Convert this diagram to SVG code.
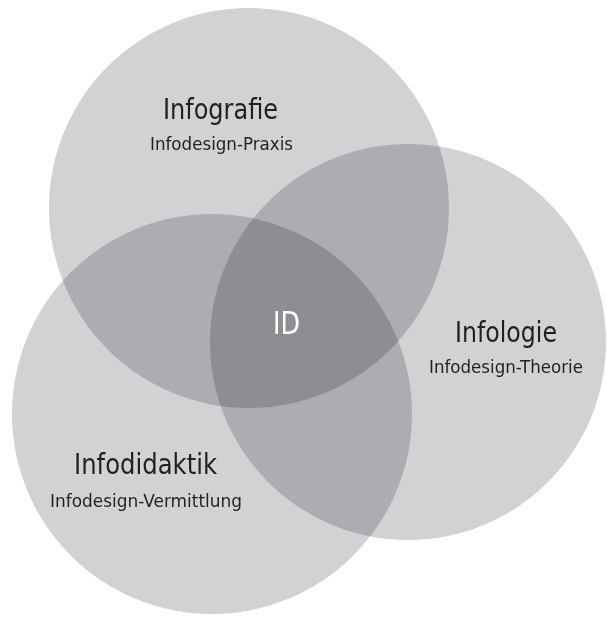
<svg xmlns="http://www.w3.org/2000/svg" width="607" height="617" viewBox="0 0 607 617">
<style>
.c{fill:#d1d2d4;mix-blend-mode:multiply}
.t{font-family:"DejaVu Sans Condensed","Noto Sans",sans-serif;fill:#231f20;text-anchor:middle}
.h{font-size:28.5px}
.s{font-size:18.5px}
.id{font-size:31.5px;fill:#ffffff}
</style>
<rect width="607" height="617" fill="#ffffff"/>
<g id="circles" style="isolation:isolate">
<g id="infografie"><circle class="c" cx="249" cy="208" r="200"/></g>
<g id="infologie"><circle class="c" cx="408" cy="342" r="198"/></g>
<g id="infodidaktik"><circle class="c" cx="212" cy="414" r="200"/></g>
</g>
<g id="labels">
<text class="t h" x="220.5" y="119" textLength="115" lengthAdjust="spacingAndGlyphs">Infografie</text>
<text class="t s" x="221.5" y="150" textLength="143" lengthAdjust="spacingAndGlyphs">Infodesign-Praxis</text>
<text class="t id" x="286.5" y="334" textLength="27" lengthAdjust="spacingAndGlyphs">ID</text>
<text class="t h" x="506" y="342" textLength="102" lengthAdjust="spacingAndGlyphs">Infologie</text>
<text class="t s" x="506" y="373" textLength="154" lengthAdjust="spacingAndGlyphs">Infodesign-Theorie</text>
<text class="t h" x="145.5" y="474" textLength="143" lengthAdjust="spacingAndGlyphs">Infodidaktik</text>
<text class="t s" x="146" y="507" textLength="192" lengthAdjust="spacingAndGlyphs">Infodesign-Vermittlung</text>
</g>
</svg>
